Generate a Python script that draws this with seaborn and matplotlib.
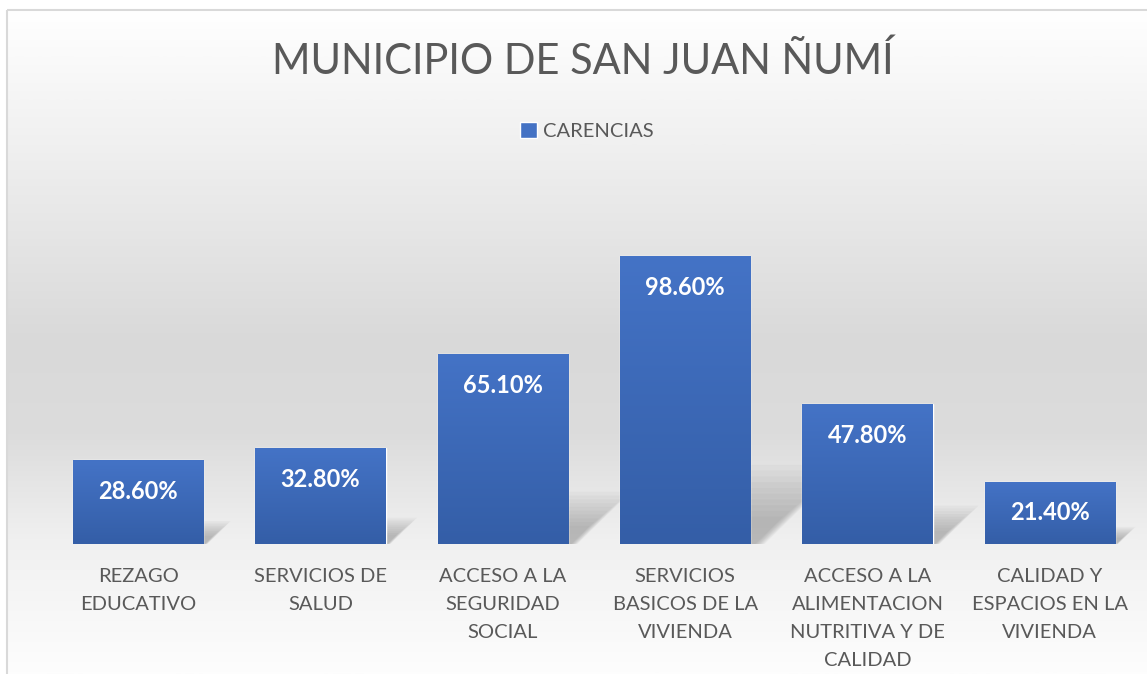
import numpy as np
import matplotlib
matplotlib.use("Agg")
import matplotlib.pyplot as plt
import seaborn as sns
from matplotlib.colors import LinearSegmentedColormap
from matplotlib.patches import Patch, Polygon, Rectangle

# data
categories = ["REZAGO\nEDUCATIVO", "SERVICIOS DE\nSALUD", "ACCESO A LA\nSEGURIDAD\nSOCIAL",
              "SERVICIOS\nBASICOS DE LA\nVIVIENDA", "ACCESO A LA\nALIMENTACION\nNUTRITIVA Y DE\nCALIDAD",
              "CALIDAD Y\nESPACIOS EN LA\nVIVIENDA"]
values = [28.6, 32.8, 65.1, 98.6, 47.8, 21.4]
labels = ["28.60%", "32.80%", "65.10%", "98.60%", "47.80%", "21.40%"]
series_name = "CARENCIAS"
title = "MUNICIPIO DE SAN JUAN ÑUMÍ"

sns.set_theme(style="white")
plt.rcParams["font.family"] = ["Lato", "DejaVu Sans"]

W, H = 1147, 674
fig = plt.figure(figsize=(W / 100, H / 100), dpi=100)

# background gradient + chart border
bg = fig.add_axes([0, 0, 1, 1], zorder=0)
bg.set_xlim(0, W)
bg.set_ylim(H, 0)
bg.axis("off")
bg_cmap = LinearSegmentedColormap.from_list(
    "bg", [(0.0, "#ffffff"), (0.2, "#f0f0f0"), (0.5, "#d9d9d9"), (0.64, "#dcdcdc"),
           (0.8, "#f0f0f0"), (1.0, "#fdfdfd")])
grad = np.linspace(0, 1, 400).reshape(-1, 1)
bg.imshow(grad, cmap=bg_cmap, aspect="auto", extent=(7, W + 5, H, 10), vmin=0, vmax=1)
bg.add_patch(Rectangle((7, 10), W, H, fill=False, edgecolor="#d9d9d9", linewidth=1.5))

# main plot
ax = fig.add_axes([47 / W, 1 - 544 / H, (1141 - 47) / W, (544 - 193.6) / H], zorder=2)
ax.patch.set_alpha(0)
sns.barplot(x=categories, y=values, color="#4472c4", width=0.714, ax=ax, saturation=1)
ax.set_ylim(0, 120)
ax.set_xlim(-0.5, len(values) - 0.5)
sns.despine(ax=ax, left=True, bottom=True)
ax.set_yticks([])
ax.set_ylabel("")
ax.tick_params(axis="x", length=0, pad=17, labelsize=14.5, labelcolor="#595959")
for t in ax.get_xticklabels():
    t.set_linespacing(1.8)

bar_cmap = LinearSegmentedColormap.from_list("bar", ["#345ea7", "#4473c6"])
px_per_x = (1141 - 47) / len(values)
px_per_y = (544 - 193.6) / 120
for p in ax.patches:
    x0, w, h = p.get_x(), p.get_width(), p.get_height()
    xr = x0 + w
    # soft perspective shadow to the right of the bar
    hp = h * px_per_y
    sh_h = 0.25 * h
    sh_w = 0.3 * hp / px_per_x
    for k in range(10):
        s = 1.1 - k * 0.08
        poly = Polygon([(xr, 0), (xr, sh_h * s), (xr + sh_w * s, sh_h * s), (xr + sh_w * 0.15 * s, 0)],
                       closed=True, facecolor="#6f6f6f", edgecolor="none", alpha=0.05, zorder=1)
        ax.add_patch(poly)
    p.set_zorder(3)
    im = ax.imshow(np.linspace(0, 1, 100).reshape(-1, 1), cmap=bar_cmap, aspect="auto",
                   extent=(x0, xr, 0, h), origin="lower", zorder=4)
    im.set_clip_path(p)

for i, (v, lab) in enumerate(zip(values, labels)):
    ax.annotate(lab, (i, v), xytext=(0, -22.5), textcoords="offset points", ha="center",
                va="center", color="white", fontsize=17, fontweight="bold", zorder=5)

fig.text(582.5 / W, 1 - 61 / H, title, ha="center", va="center", fontsize=30, color="#595959")
fig.legend(handles=[Patch(facecolor="#4472c4", label=series_name)], loc="center",
           bbox_to_anchor=(587 / W, 1 - 131 / H), frameon=False, fontsize=14.5,
           labelcolor="#595959", handlelength=0.85, handleheight=0.85, handletextpad=0.3)

fig.savefig("out.png", dpi=100)
